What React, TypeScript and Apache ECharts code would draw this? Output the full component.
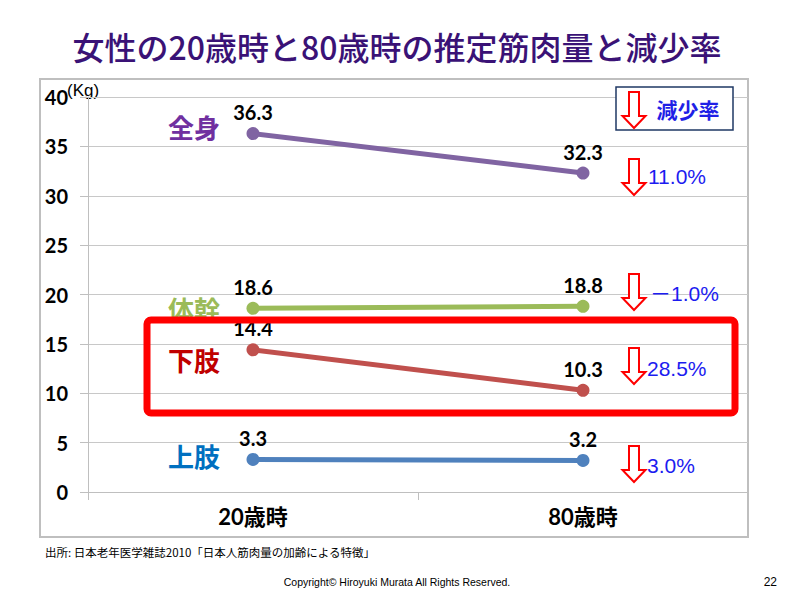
import React, { useEffect, useRef } from "react";
import * as echarts from "echarts";

const categories = ["20歳時", "80歳時"];
const seriesNames = ["全身", "体幹", "下肢", "上肢"];
const wholeBody = [36.3, 32.3];
const trunk = [18.6, 18.8];
const lowerLimb = [14.4, 10.3];
const upperLimb = [3.3, 3.2];
const reductionRates = ["11.0%", "－1.0%", "28.5%", "3.0%"];
const yTicks = { min: 0, max: 40, interval: 5 };

const lineColors = ["#8064A2", "#9BBB59", "#C0504D", "#4F81BD"];
const nameColors = ["#7030A0", "#9BBB59", "#C00000", "#0070C0"];
const nameOffsets = [-7, 0, 10, -4];

const NUM_FONT = "Lato, 'Noto Sans CJK JP', sans-serif";
const JP_FONT = "'Noto Sans CJK JP', sans-serif";

function arrow(cx: number, top: number) {
  return {
    type: "polygon",
    z: 110,
    shape: {
      points: [
        [cx - 5, top],
        [cx + 5, top],
        [cx + 5, top + 24],
        [cx + 11.5, top + 24],
        [cx, top + 36],
        [cx - 11.5, top + 24],
        [cx - 5, top + 24],
      ],
    },
    style: { fill: "#fff", stroke: "#FF0000", lineWidth: 2 },
  };
}

export default function App() {
  const ref = useRef<HTMLDivElement>(null);
  useEffect(() => {
    if (!ref.current) return;
    const chart = echarts.init(ref.current, null, { renderer: "svg" });
    const all = [wholeBody, trunk, lowerLimb, upperLimb];
    const series = all.map((d, i) => ({
      type: "line",
      name: seriesNames[i],
      data: d,
      symbol: "circle",
      symbolSize: 13,
      lineStyle: { width: 5, color: lineColors[i] },
      itemStyle: { color: lineColors[i] },
      label: {
        show: true,
        position: "top",
        distance: 5,
        fontFamily: NUM_FONT,
        fontWeight: "bold",
        fontSize: 20,
        color: "#000",
        formatter: (p: any) => p.value.toFixed(1),
      },
      markPoint: {
        symbol: "circle",
        symbolSize: 0,
        data: [
          {
            coord: [0, d[0]],
            label: {
              show: true,
              position: "left",
              distance: 33,
              offset: [0, nameOffsets[i]],
              formatter: seriesNames[i],
              fontFamily: JP_FONT,
              fontWeight: "bold",
              fontSize: 26,
              color: nameColors[i],
            },
          },
        ],
      },
    }));

    const arrowTops = [159, 274, 348, 446];
    const rateX = [648, 650, 647, 647];
    const rateY = [176, 293, 368, 465];

    const graphic: any[] = [
      {
        type: "rect",
        z: 0,
        shape: { x: 40, y: 79, width: 708, height: 458 },
        style: { fill: "none", stroke: "#BFBFBF", lineWidth: 2 },
      },
      {
        type: "text",
        x: 397,
        y: 46,
        style: {
          text: "女性の20歳時と80歳時の推定筋肉量と減少率",
          fontFamily: JP_FONT,
          fontWeight: 500,
          fontSize: 32,
          fill: "#3A1276",
          align: "center",
          verticalAlign: "middle",
        },
      },
      {
        type: "text",
        x: 67,
        y: 90,
        style: {
          text: "(Kg)",
          fontFamily: "'Liberation Sans', sans-serif",
          fontSize: 17,
          fill: "#000",
          align: "left",
          verticalAlign: "middle",
        },
      },
      {
        type: "rect",
        z: 100,
        shape: { x: 147, y: 320, width: 588, height: 93, r: 4 },
        style: { fill: "none", stroke: "#FF0000", lineWidth: 7 },
      },
      {
        type: "rect",
        z: 100,
        shape: { x: 616, y: 87, width: 117, height: 43 },
        style: { fill: "#fff", stroke: "#1F3864", lineWidth: 1.5 },
      },
      arrow(634, 92),
      {
        type: "text",
        z: 110,
        x: 688,
        y: 109,
        style: {
          text: "減少率",
          fontFamily: JP_FONT,
          fontWeight: "bold",
          fontSize: 21,
          fill: "#1F1FE6",
          align: "center",
          verticalAlign: "middle",
        },
      },
      {
        type: "text",
        x: 45,
        y: 552,
        style: {
          text: "出所: 日本老年医学雑誌2010「日本人筋肉量の加齢による特徴」",
          fontFamily: JP_FONT,
          fontSize: 11.5,
          fill: "#000",
          align: "left",
          verticalAlign: "middle",
        },
      },
      {
        type: "text",
        x: 397,
        y: 582,
        style: {
          text: "Copyright© Hiroyuki Murata All Rights Reserved.",
          fontFamily: "'Liberation Sans', sans-serif",
          fontSize: 10.5,
          fill: "#000",
          align: "center",
          verticalAlign: "middle",
        },
      },
      {
        type: "text",
        x: 777,
        y: 582,
        style: {
          text: "22",
          fontFamily: "'Liberation Sans', sans-serif",
          fontSize: 12,
          fill: "#000",
          align: "right",
          verticalAlign: "middle",
        },
      },
    ];
    reductionRates.forEach((r, i) => {
      graphic.push(arrow(634, arrowTops[i]));
      graphic.push({
        type: "text",
        z: 110,
        x: rateX[i],
        y: rateY[i],
        style: {
          text: r,
          fontFamily: "'Liberation Sans', 'Noto Sans CJK JP', sans-serif",
          fontSize: 21,
          fill: "#1C1CF0",
          align: "left",
          verticalAlign: "middle",
        },
      });
    });

    chart.setOption({
      animation: false,
      backgroundColor: "#fff",
      grid: { left: 88, right: 37, top: 97, bottom: 100, containLabel: false },
      xAxis: {
        type: "category",
        data: categories,
        boundaryGap: true,
        axisLine: { show: true, lineStyle: { color: "#BFBFBF", width: 1 } },
        axisTick: { show: true, length: 8, alignWithLabel: false, lineStyle: { color: "#BFBFBF" } },
        axisLabel: {
          margin: 13,
          fontFamily: NUM_FONT,
          fontWeight: "bold",
          fontSize: 22,
          color: "#000",
        },
      },
      yAxis: {
        type: "value",
        min: yTicks.min,
        max: yTicks.max,
        interval: yTicks.interval,
        axisLine: { show: true, lineStyle: { color: "#BFBFBF", width: 1 } },
        axisTick: { show: true, length: 8, lineStyle: { color: "#BFBFBF" } },
        splitLine: { show: true, lineStyle: { color: "#C8C8C8", width: 1 } },
        axisLabel: {
          margin: 20,
          fontFamily: NUM_FONT,
          fontWeight: "bold",
          fontSize: 20,
          color: "#000",
        },
      },
      series,
      graphic,
    });
    return () => chart.dispose();
  }, []);
  return (
    <div
      ref={ref}
      style={{ position: "fixed", left: 0, top: 0, width: 785, height: 592, background: "#fff" }}
    />
  );
}
